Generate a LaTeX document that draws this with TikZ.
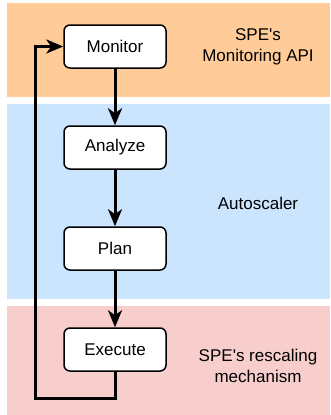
\documentclass[tikz,border=0pt]{standalone}
\usepackage{fontspec}
\setmainfont{Liberation Sans}
\usetikzlibrary{arrows.meta,positioning}

\definecolor{monitorbg}{HTML}{FFCC99}
\definecolor{scalerbg}{HTML}{CCE5FF}
\definecolor{rescalebg}{HTML}{F8CECC}

\begin{document}
\begin{tikzpicture}[x=1pt,y=-1pt,
	stage/.style={draw,fill=white,line width=1.5pt,rounded corners=6pt,
		minimum width=102pt,minimum height=43pt,inner sep=0pt,
		font=\fontsize{17}{20}\selectfont},
	layer/.style={align=center,font=\fontsize{17}{21.5}\selectfont},
	flow/.style={line width=3pt,-{Stealth[length=17pt,width=14pt,inset=5pt]}}]
	\useasboundingbox (0,0) rectangle (330,415);

	% layers
	\fill[monitorbg]	(7,3) rectangle (330,97);
	\fill[scalerbg]		(7,104) rectangle (330,299);
	\fill[rescalebg]	(7,306) rectangle (330,415);

	\node[layer] (api)		at (258,47)		{SPE\textquotesingle s\\Monitoring API};
	\node[layer] (scaler)	at (258,203)	{Autoscaler};
	\node[layer] (mech)		at (258,366)	{SPE\textquotesingle s rescaling\\mechanism};

	% MAPE loop
	\node[stage] (monitor)	at (115,46.5)	{Monitor};
	\node[stage] (analyze)	at (115,147.5)	{Analyze};
	\node[stage] (plan)		at (115,248.5)	{Plan};
	\node[stage] (execute)	at (115,349.5)	{Execute};

	\coordinate (br) at (115,398);
	\coordinate (bl) at (35,398);
	\coordinate (tl) at (35,46.5);

	\draw[flow]	(monitor) -- (analyze);
	\draw[flow]	(analyze) -- (plan);
	\draw[flow]	(plan) -- (execute);
	\draw[flow,line join=miter]	(execute) -- (br) -- (bl) -- (tl) -- (monitor);
\end{tikzpicture}
\end{document}
